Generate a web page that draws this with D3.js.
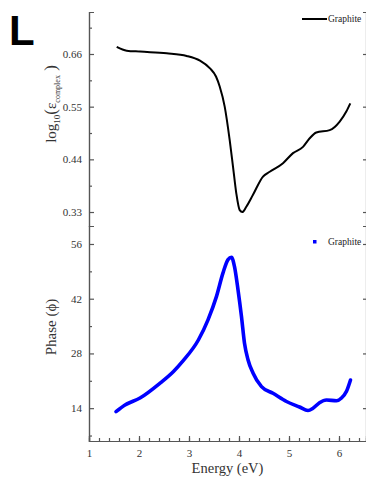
<!DOCTYPE html>
<html>
<head>
<meta charset="utf-8">
<script src="https://cdn.jsdelivr.net/npm/d3@7"></script>
<style>
  body { margin: 0; background: #fff; }
  svg { display: block; }
  text { font-family: "Liberation Serif", serif; font-weight: normal; }
  .axis text { font-family: "Liberation Serif", serif; font-size: 11px; fill: #333; }
  .axis path, .axis line { stroke: #555; stroke-width: 1.2; }
</style>
</head>
<body>
<svg width="366" height="485"></svg>
<script>
// Top panel: log10 of complex permittivity vs energy
const energyTop = [1.554, 1.754, 2.02, 2.554, 2.954, 3.22, 3.42, 3.54, 3.614, 3.714, 3.814, 3.88, 3.946, 4.014, 4.066, 4.146, 4.28, 4.48, 4.614, 4.88, 5.08, 5.28, 5.414, 5.546, 5.814, 6.014, 6.146, 6.226];
const logEps = [0.675, 0.667, 0.665, 0.6615, 0.656, 0.646, 0.630, 0.613, 0.592, 0.550, 0.480, 0.425, 0.369, 0.334, 0.330, 0.341, 0.366, 0.404, 0.414, 0.432, 0.453, 0.466, 0.484, 0.496, 0.501, 0.519, 0.540, 0.557];

// Bottom panel: phase vs energy
const energyPhase = [1.54, 1.72, 2.02, 2.42, 2.69, 2.88, 3.19, 3.38, 3.55, 3.68, 3.78, 3.85, 3.91, 3.98, 4.05, 4.11, 4.18, 4.28, 4.45, 4.68, 4.95, 5.21, 5.38, 5.48, 5.61, 5.75, 5.95, 6.05, 6.15, 6.23];
const phase = [13.1, 14.8, 16.6, 20.4, 23.4, 26.1, 31.5, 36.6, 42.6, 48.6, 52.0, 52.6, 50.2, 44.3, 37.4, 30.6, 26.4, 23.0, 19.5, 17.8, 15.7, 14.3, 13.4, 14.0, 15.4, 16.1, 15.9, 16.6, 18.3, 21.2];

// Tick values
const energyTicks = [1, 2, 3, 4, 5, 6];
const logTicks = [0.33, 0.44, 0.55, 0.66];
const logMinor = [0.385, 0.495, 0.605, 0.715];
const phaseTicks = [14, 28, 42, 56];
const phaseMinor = [7, 21, 35, 49];
const seriesName = "Graphite";

const svg = d3.select("svg");

// Layout
const plotLeft = 89, plotRight = 366, plotTop = 12, plotMid = 226, plotBottom = 441;

const x = d3.scaleLinear().domain([1, 6.54]).range([plotLeft, plotRight]);
const yTop = d3.scaleLinear().domain([0.3008, 0.7477]).range([plotMid, plotTop]);
const yBot = d3.scaleLinear().domain([5.6, 60.6]).range([plotBottom, plotMid]);

// Left axes (ticks point inward)
svg.append("g").attr("class", "axis")
    .attr("transform", `translate(${plotLeft},0)`)
    .call(d3.axisLeft(yTop).tickValues(logTicks).tickSize(-5).tickPadding(7).tickFormat(d3.format(".2f")));
svg.append("g").attr("class", "axis")
    .attr("transform", `translate(${plotLeft},0)`)
    .call(d3.axisLeft(yTop).tickValues(logMinor).tickSize(-3).tickFormat(""));
svg.append("g").attr("class", "axis")
    .attr("transform", `translate(${plotLeft},0)`)
    .call(d3.axisLeft(yBot).tickValues(phaseTicks).tickSize(-5).tickPadding(7));
svg.append("g").attr("class", "axis")
    .attr("transform", `translate(${plotLeft},0)`)
    .call(d3.axisLeft(yBot).tickValues(phaseMinor).tickSize(-3).tickFormat(""));

// Right side ticks
svg.append("g").attr("class", "axis")
    .attr("transform", `translate(${plotRight},0)`)
    .call(d3.axisLeft(yTop).tickValues(logTicks).tickSize(3).tickFormat(""));
svg.append("g").attr("class", "axis")
    .attr("transform", `translate(${plotRight},0)`)
    .call(d3.axisLeft(yBot).tickValues(phaseTicks).tickSize(3).tickFormat(""));

// Bottom axis
svg.append("g").attr("class", "axis")
    .attr("transform", `translate(0,${plotBottom})`)
    .call(d3.axisBottom(x).tickValues(d3.range(1.2, 6.5, 0.2)).tickSize(-3).tickFormat(""));
svg.append("g").attr("class", "axis")
    .attr("transform", `translate(0,${plotBottom})`)
    .call(d3.axisBottom(x).tickValues(energyTicks).tickSize(-5).tickPadding(8).tickFormat(d3.format("d")));

// Lines
const topLine = d3.line()
    .x((d, i) => x(energyTop[i]))
    .y(d => yTop(d))
    .curve(d3.curveMonotoneX);
svg.append("path")
    .attr("d", topLine(logEps))
    .attr("fill", "none")
    .attr("stroke", "#000")
    .attr("stroke-width", 2);

const botLine = d3.line()
    .x((d, i) => x(energyPhase[i]))
    .y(d => yBot(d))
    .curve(d3.curveMonotoneX);
svg.append("path")
    .attr("d", botLine(phase))
    .attr("fill", "none")
    .attr("stroke", "#0000ff")
    .attr("stroke-width", 3.6)
    .attr("stroke-linecap", "round");

// Legends
svg.append("line")
    .attr("x1", 302).attr("x2", 327).attr("y1", 19).attr("y2", 19)
    .attr("stroke", "#000").attr("stroke-width", 2);
svg.append("text")
    .attr("x", 328).attr("y", 22)
    .style("font-size", "9.5px").style("fill", "#222")
    .text(seriesName);
svg.append("rect")
    .attr("x", 313).attr("y", 240).attr("width", 3.5).attr("height", 3.5)
    .attr("fill", "#0000ff");
svg.append("text")
    .attr("x", 328).attr("y", 245)
    .style("font-size", "9.5px").style("fill", "#222")
    .text(seriesName);

// Axis titles
svg.append("text")
    .attr("x", (plotLeft + plotRight) / 2).attr("y", 473)
    .attr("text-anchor", "middle")
    .style("font-size", "14.5px").style("fill", "#333")
    .text("Energy (eV)");

const ylab = svg.append("text")
    .attr("transform", "translate(56,104) rotate(-90)")
    .attr("text-anchor", "middle")
    .style("font-size", "15px").style("fill", "#333");
ylab.append("tspan").text("log");
ylab.append("tspan").attr("dy", 4).style("font-size", "9px").text("10");
ylab.append("tspan").attr("dy", -4).style("font-size", "17px").text("(");
ylab.append("tspan").text("ε");
ylab.append("tspan").attr("dy", 4).style("font-size", "8px").text("complex");
ylab.append("tspan").attr("dy", -4).style("font-size", "17px").text(" )");

svg.append("text")
    .attr("transform", "translate(56,327) rotate(-90)")
    .attr("text-anchor", "middle")
    .style("font-size", "15px").style("fill", "#333")
    .text("Phase (ϕ)");

// Panel letter
svg.append("text")
    .attr("x", 9).attr("y", 45)
    .style("font-family", "Liberation Sans, Arial, sans-serif").style("font-size", "42px").style("font-weight", "bold")
    .text("L");
</script>
</body>
</html>
